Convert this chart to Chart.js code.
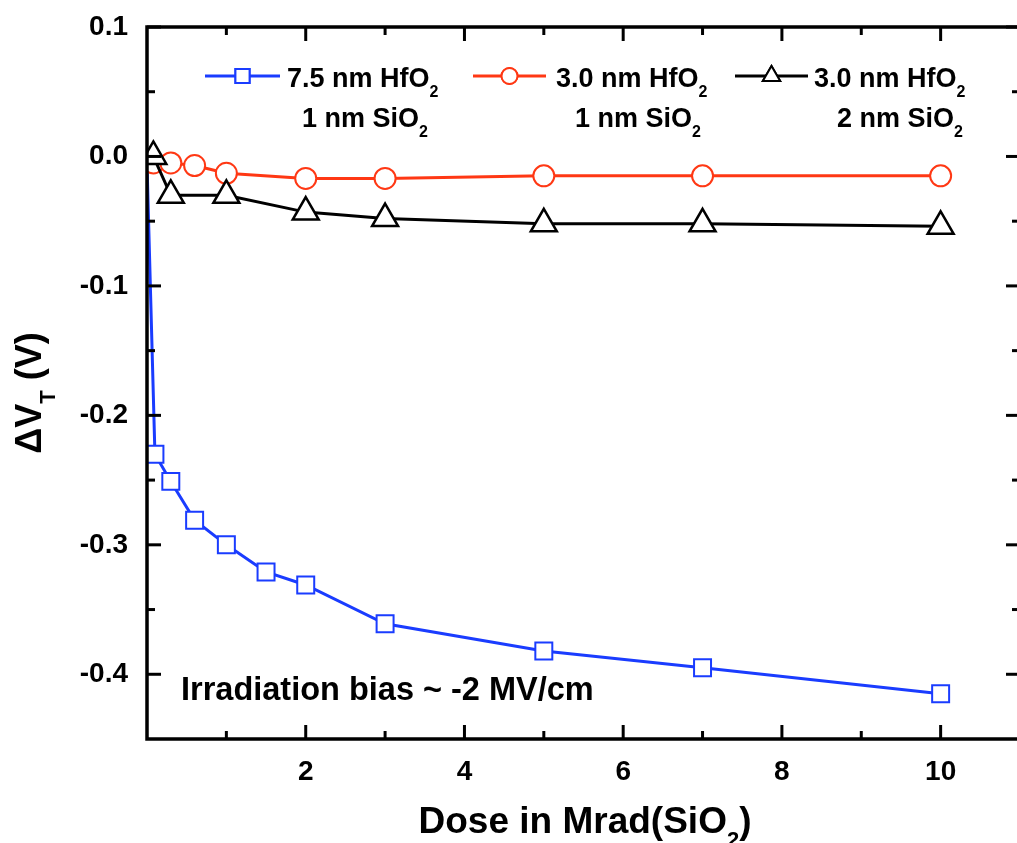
<!DOCTYPE html>
<html>
<head>
<meta charset="utf-8">
<script src="https://cdn.jsdelivr.net/npm/chart.js@4.4.1/dist/chart.umd.min.js"></script>
<style>
  html, body { margin: 0; padding: 0; overflow: hidden; background: #fff; }
  canvas { display: block; }
</style>
</head>
<body>
<canvas id="chart" width="1032" height="843"></canvas>
<script>
// --- data ---
const dose75 = [0, 0.1, 0.3, 0.6, 1, 1.5, 2, 3, 5, 7, 10];
const dvt75 = [-0.005, -0.230, -0.251, -0.281, -0.300, -0.321, -0.331, -0.361, -0.382, -0.395, -0.415];

const dose30a = [0.08, 0.3, 0.6, 1, 2, 3, 5, 7, 10];
const dvt30a = [-0.005, -0.005, -0.007, -0.013, -0.017, -0.017, -0.015, -0.015, -0.015];

const dose30b = [0.08, 0.3, 1, 2, 3, 5, 7, 10];
const dvt30b = [0.000, -0.030, -0.030, -0.043, -0.048, -0.052, -0.052, -0.054];

const xMajor = [2, 4, 6, 8, 10];
const xMinor = [1, 3, 5, 7, 9];
const yMajor = [0.1, 0.0, -0.1, -0.2, -0.3, -0.4];
const yMinor = [0.05, -0.05, -0.15, -0.25, -0.35];

const BLUE = '#1a3cff';
const RED = '#ff3814';
const BLACK = '#000000';
const FONT = '"Liberation Sans", Arial, sans-serif';

const toPts = (xs, ys) => xs.map((x, i) => ({ x: x, y: ys[i] }));

// text with subscripts: parts = [[text, isSub], ...]
function partsWidth(ctx, parts, size) {
    let w = 0;
    parts.forEach(([t, sub]) => {
        ctx.font = `bold ${sub ? Math.round(size * 0.6) : size}px ${FONT}`;
        w += ctx.measureText(t).width;
    });
    return w;
}
function drawParts(ctx, parts, x, y, size) {
    let cx = x;
    parts.forEach(([t, sub]) => {
        ctx.font = `bold ${sub ? Math.round(size * 0.6) : size}px ${FONT}`;
        ctx.fillText(t, cx, sub ? y + size * 0.38 : y);
        cx += ctx.measureText(t).width;
    });
}

// keep the plot box where the figure has it
function noPad(scale) {
    scale.paddingTop = 0;
    scale.paddingBottom = 0;
    scale.paddingLeft = 0;
    scale.paddingRight = 0;
}

const frame = {
    id: 'frame',
    afterDatasetsDraw(chart) {
        const { ctx, chartArea: a, scales: { x, y } } = chart;
        ctx.save();
        ctx.strokeStyle = '#000';
        ctx.lineCap = 'butt';
        const seg = (x1, y1, x2, y2) => { ctx.beginPath(); ctx.moveTo(x1, y1); ctx.lineTo(x2, y2); ctx.stroke(); };

        ctx.lineWidth = 3;
        xMajor.forEach(v => { const p = x.getPixelForValue(v); seg(p, a.bottom, p, a.bottom - 14); seg(p, a.top, p, a.top + 14); });
        xMinor.forEach(v => { const p = x.getPixelForValue(v); seg(p, a.bottom, p, a.bottom - 8); seg(p, a.top, p, a.top + 8); });
        yMajor.forEach(v => { const p = y.getPixelForValue(v); seg(a.left, p, a.left + 14, p); seg(a.right, p, a.right - 14, p); });
        yMinor.forEach(v => { const p = y.getPixelForValue(v); seg(a.left, p, a.left + 8, p); seg(a.right, p, a.right - 8, p); });

        ctx.lineWidth = 3.5;
        ctx.strokeRect(a.left, a.top, a.right - a.left, a.bottom - a.top);
        ctx.restore();
    },
    afterDraw(chart) {
        const { ctx, data } = chart;
        ctx.save();
        ctx.fillStyle = '#000';
        ctx.textBaseline = 'alphabetic';
        ctx.textAlign = 'left';

        // axis titles
        const xt = [['Dose in Mrad(SiO', false], ['2', true], [')', false]];
        drawParts(ctx, xt, 585 - partsWidth(ctx, xt, 37) / 2, 833, 37);

        const yt = [['\u0394V', false], ['T', true], [' (V)', false]];
        ctx.save();
        ctx.translate(41, 393);
        ctx.rotate(-Math.PI / 2);
        drawParts(ctx, yt, -partsWidth(ctx, yt, 36) / 2, 0, 36);
        ctx.restore();

        // annotation
        ctx.font = `bold 32.5px ${FONT}`;
        ctx.fillText('Irradiation bias ~ -2 MV/cm', 181, 700);

        // legend
        const items = [
            { ds: data.datasets[0], x0: 205, x1: 280, tx: 287, t2x: 302, l1: '7.5 nm HfO', l2: '1 nm SiO', r: 10 },
            { ds: data.datasets[1], x0: 473, x1: 546, tx: 556, t2x: 575, l1: '3.0 nm HfO', l2: '1 nm SiO', r: 8 },
            { ds: data.datasets[2], x0: 735, x1: 808, tx: 814, t2x: 837, l1: '3.0 nm HfO', l2: '2 nm SiO', r: 10 }
        ];
        const ly = 76;
        items.forEach(it => {
            ctx.strokeStyle = it.ds.borderColor;
            ctx.lineWidth = 3;
            ctx.beginPath(); ctx.moveTo(it.x0, ly); ctx.lineTo(it.x1, ly); ctx.stroke();
            ctx.fillStyle = '#fff';
            ctx.lineWidth = 2;
            Chart.helpers.drawPoint(ctx, { pointStyle: it.ds.pointStyle, radius: it.r, borderWidth: 2 }, (it.x0 + it.x1) / 2, ly);
            ctx.fill();
            ctx.stroke();
            ctx.fillStyle = '#000';
            ctx.textAlign = 'left';
            drawParts(ctx, [[it.l1, false], ['2', true]], it.tx, 87, 27);
            drawParts(ctx, [[it.l2, false], ['2', true]], it.t2x, 127, 27);
        });
        ctx.restore();
    }
};

new Chart(document.getElementById('chart'), {
    type: 'scatter',
    data: {
        datasets: [
            {
                label: '7.5 nm HfO2 / 1 nm SiO2',
                data: toPts(dose75, dvt75),
                showLine: true,
                borderColor: BLUE,
                backgroundColor: '#fff',
                borderWidth: 3,
                pointStyle: 'rect',
                pointRadius: 12,
                pointBorderWidth: 2,
                order: 3
            },
            {
                label: '3.0 nm HfO2 / 1 nm SiO2',
                data: toPts(dose30a, dvt30a),
                showLine: true,
                borderColor: RED,
                backgroundColor: '#fff',
                borderWidth: 3,
                pointStyle: 'circle',
                pointRadius: 10.5,
                pointBorderWidth: 2,
                order: 2
            },
            {
                label: '3.0 nm HfO2 / 2 nm SiO2',
                data: toPts(dose30b, dvt30b),
                showLine: true,
                borderColor: BLACK,
                backgroundColor: '#fff',
                borderWidth: 3,
                pointStyle: 'triangle',
                pointRadius: 15,
                pointBorderWidth: 2.5,
                order: 1
            }
        ]
    },
    options: {
        responsive: false,
        animation: false,
        events: [],
        layout: { autoPadding: false, padding: { top: 27, right: 12, left: 0, bottom: 0 } },
        plugins: {
            legend: { display: false },
            tooltip: { enabled: false }
        },
        scales: {
            x: {
                type: 'linear',
                min: 0,
                max: 11,
                grid: { display: false, drawTicks: false },
                border: { display: false },
                afterFit(scale) { scale.height = 843 - 739; noPad(scale); },
                afterBuildTicks(scale) { scale.ticks = xMajor.map(v => ({ value: v })); },
                ticks: {
                    padding: 16,
                    color: '#000',
                    font: { family: FONT, size: 28, weight: 'bold' }
                }
            },
            y: {
                type: 'linear',
                min: -0.45,
                max: 0.1,
                grid: { display: false, drawTicks: false },
                border: { display: false },
                afterFit(scale) { scale.width = 147; noPad(scale); },
                afterBuildTicks(scale) { scale.ticks = yMajor.map(v => ({ value: v })); },
                ticks: {
                    padding: 19,
                    color: '#000',
                    font: { family: FONT, size: 28, weight: 'bold' },
                    callback: v => v.toFixed(1)
                }
            }
        }
    },
    plugins: [frame]
});
</script>
</body>
</html>
